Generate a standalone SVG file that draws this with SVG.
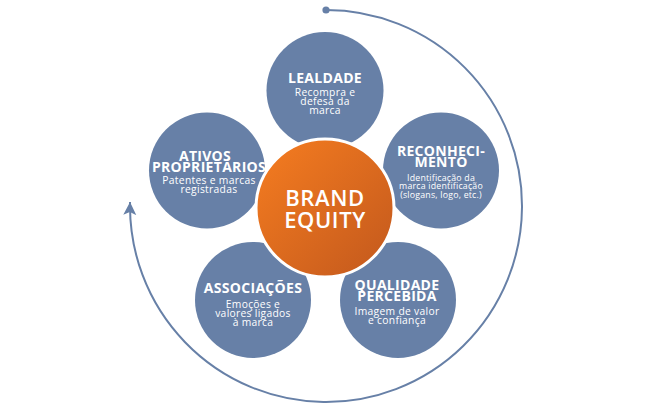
<svg xmlns="http://www.w3.org/2000/svg" width="650" height="412" viewBox="0 0 650 412">
  <defs>
    <linearGradient id="orangeGrad" x1="0" y1="0" x2="1" y2="1">
      <stop offset="0" stop-color="#F67D20"/>
      <stop offset="1" stop-color="#C2581D"/>
    </linearGradient>
    <marker id="arrowHead" markerUnits="userSpaceOnUse" markerWidth="16" markerHeight="14" refX="13" refY="6.5" orient="auto">
      <path d="M0,0 L13,6.5 L0,13 L3,6.5 z" fill="#6780A7"/>
    </marker>
    <style>
      .node { fill: #6780A7; }
      .label { font-family: "Open Sans", "Liberation Sans", sans-serif; fill: #FFFFFF; text-anchor: middle; }
      .title { font-weight: 700; font-size: 14px; letter-spacing: 0.3px; }
      .desc { font-weight: 400; font-size: 10.3px; letter-spacing: 0.3px; }
      .descSmall { font-weight: 400; font-size: 8.8px; letter-spacing: 0.2px; }
      .center { font-family: "Open Sans", "Liberation Sans", sans-serif; font-weight: 600; font-size: 22px; fill: #FFFFFF; text-anchor: middle; letter-spacing: 0.6px; }
      .cycle { fill: none; stroke: #6780A7; stroke-width: 2; }
    </style>
  </defs>
  <rect x="0" y="0" width="650" height="412" fill="#FFFFFF"/>

  <g id="connectors">
    <circle cx="326" cy="10" r="3.6" fill="#6780A7"/>
    <path class="cycle" d="M 326 10 A 196 196 0 1 1 130.04 202" marker-end="url(#arrowHead)"/>
  </g>

  <g id="lealdade">
    <circle class="node" cx="325" cy="90.5" r="58.5"/>
    <text class="label"><tspan class="title" x="325" y="83">LEALDADE</tspan><tspan class="desc" x="325" y="95.5">Recompra e</tspan><tspan class="desc" x="325" y="104.8">defesa da</tspan><tspan class="desc" x="325" y="114">marca</tspan></text>
  </g>

  <g id="reconhecimento">
    <circle class="node" cx="441" cy="170.5" r="58"/>
    <text class="label"><tspan class="title" x="441" y="156">RECONHECI-</tspan><tspan class="title" x="441" y="167">MENTO</tspan><tspan class="descSmall" x="441" y="180.5">Identificação da</tspan><tspan class="descSmall" x="441" y="189">marca identificação</tspan><tspan class="descSmall" x="441" y="197.5">(slogans, logo, etc.)</tspan></text>
  </g>

  <g id="ativos">
    <circle class="node" cx="207" cy="170.5" r="58"/>
    <text class="label"><tspan class="title" x="205" y="160.5">ATIVOS</tspan><tspan class="title" x="209" y="171.7">PROPRIETÁRIOS</tspan><tspan class="desc" x="209" y="183.5">Patentes e marcas</tspan><tspan class="desc" x="209" y="192.5">registradas</tspan></text>
  </g>

  <g id="associacoes">
    <circle class="node" cx="253" cy="300" r="58"/>
    <text class="label"><tspan class="title" x="253" y="293">ASSOCIAÇÕES</tspan><tspan class="desc" x="253" y="307.5">Emoções e</tspan><tspan class="desc" x="253" y="316.5">valores ligados</tspan><tspan class="desc" x="253" y="325.5">à marca</tspan></text>
  </g>

  <g id="qualidade">
    <circle class="node" cx="398" cy="300" r="58"/>
    <text class="label"><tspan class="title" x="397" y="290">QUALIDADE</tspan><tspan class="title" x="397" y="301">PERCEBIDA</tspan><tspan class="desc" x="397" y="315">Imagem de valor</tspan><tspan class="desc" x="397" y="324">e confiança</tspan></text>
  </g>

  <g id="brand-equity">
    <circle cx="325" cy="208" r="69" fill="url(#orangeGrad)" stroke="#FFFFFF" stroke-width="3"/>
    <text class="center"><tspan x="325" y="205.5">BRAND</tspan><tspan x="325" y="228">EQUITY</tspan></text>
  </g>
</svg>
